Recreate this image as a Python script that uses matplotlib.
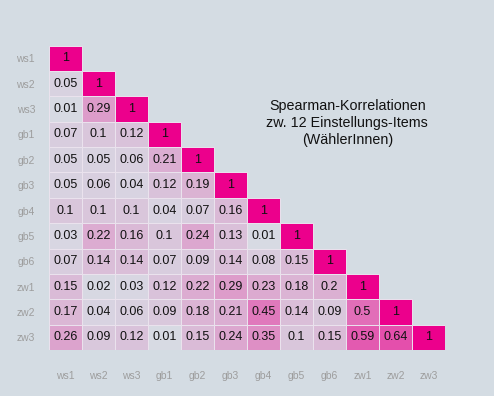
import matplotlib
matplotlib.use("Agg")
import matplotlib.pyplot as plt
import numpy as np
from matplotlib.colors import LinearSegmentedColormap
from matplotlib.patches import Rectangle

plt.rcParams['font.family'] = ['Liberation Sans', 'DejaVu Sans']

# item labels
items = ["ws1", "ws2", "ws3", "gb1", "gb2", "gb3",
         "gb4", "gb5", "gb6", "zw1", "zw2", "zw3"]

# lower triangle of the correlation matrix, row by row
rows = [
    [1],
    [0.05, 1],
    [0.01, 0.29, 1],
    [0.07, 0.1, 0.12, 1],
    [0.05, 0.05, 0.06, 0.21, 1],
    [0.05, 0.06, 0.04, 0.12, 0.19, 1],
    [0.1, 0.1, 0.1, 0.04, 0.07, 0.16, 1],
    [0.03, 0.22, 0.16, 0.1, 0.24, 0.13, 0.01, 1],
    [0.07, 0.14, 0.14, 0.07, 0.09, 0.14, 0.08, 0.15, 1],
    [0.15, 0.02, 0.03, 0.12, 0.22, 0.29, 0.23, 0.18, 0.2, 1],
    [0.17, 0.04, 0.06, 0.09, 0.18, 0.21, 0.45, 0.14, 0.09, 0.5, 1],
    [0.26, 0.09, 0.12, 0.01, 0.15, 0.24, 0.35, 0.1, 0.15, 0.59, 0.64, 1],
]

title = "Spearman-Korrelationen\nzw. 12 Einstellungs-Items\n(WählerInnen)"

n = len(items)
bg = "#d4dce3"
cmap = LinearSegmentedColormap.from_list("pk", ["#d7dce4", "#ec008c"])

fig = plt.figure(figsize=(4.94, 3.96), dpi=100, facecolor=bg)
ax = fig.add_axes([0.0992, 0.1162, 0.8016, 0.7684])
ax.set_facecolor(bg)

# one tile per value of the lower triangle
for i, r in enumerate(rows):
    for j, v in enumerate(r):
        ax.add_patch(Rectangle((j, i), 1, 1, facecolor=cmap(float(v)),
                               edgecolor="#ebe3ee", linewidth=0.7))
        ax.text(j + 0.5, i + 0.5, "%g" % v, ha="center", va="center",
                fontsize=9, color="#111111")

ax.set_xlim(0, n)
ax.set_ylim(n, 0)

ax.set_xticks(np.arange(n) + 0.5)
ax.set_xticklabels(items)
ax.set_yticks(np.arange(n) + 0.5)
ax.set_yticklabels(items)
ax.tick_params(length=0, labelsize=7.5, labelcolor="#9d9d9d")
ax.tick_params(axis="x", pad=15)
ax.tick_params(axis="y", pad=10)
for s in ax.spines.values():
    s.set_visible(False)

fig.text(0.703, 0.689, title, ha="center", va="center", fontsize=10.3,
         linespacing=1.28, color="#111111")

fig.savefig("out.png", dpi=100, facecolor=bg)
